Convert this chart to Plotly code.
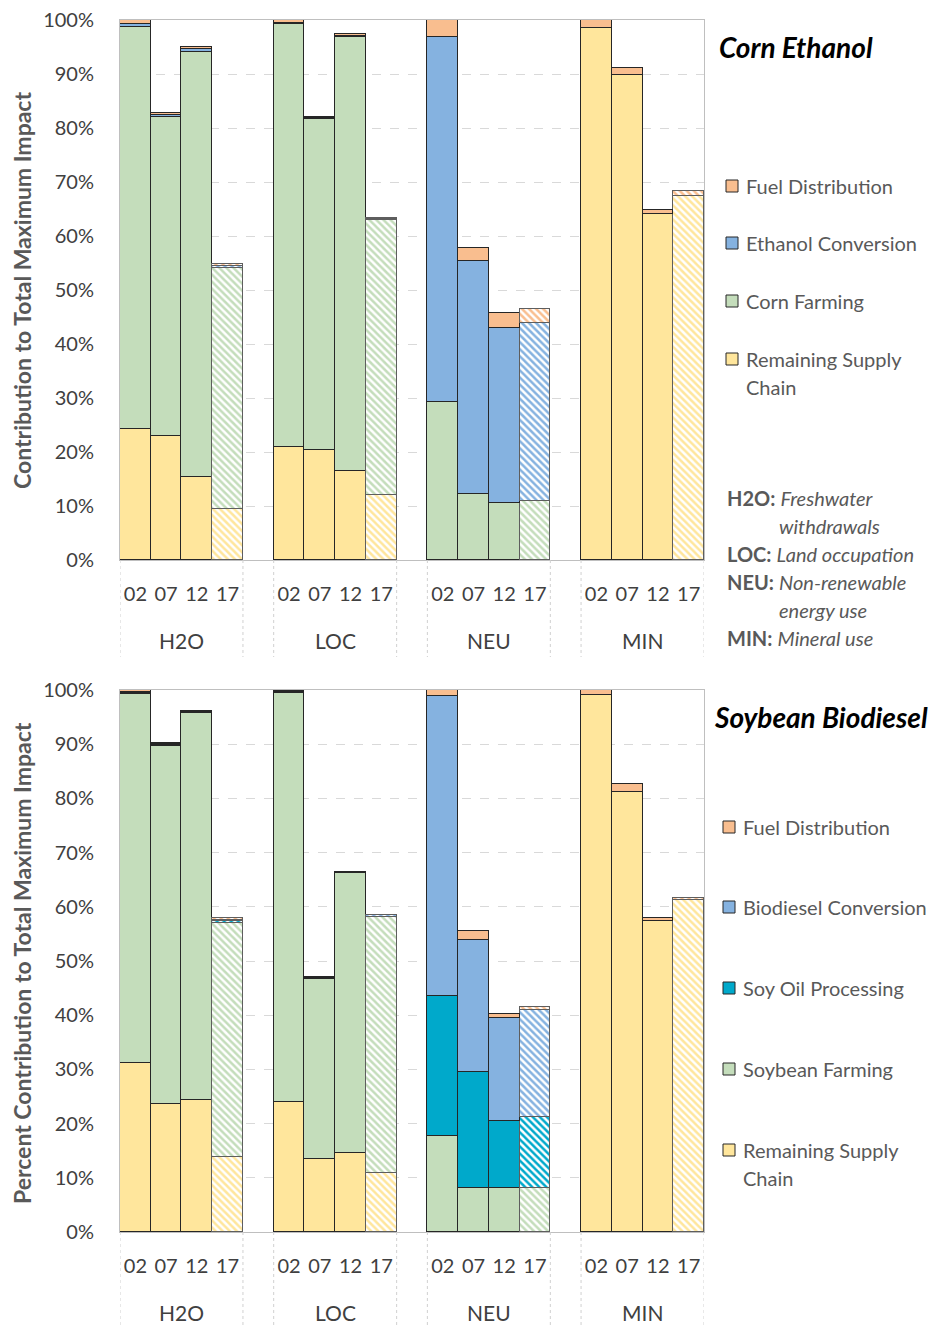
import plotly.graph_objects as go

# Impact categories and study years
impacts = ["H2O", "LOC", "NEU", "MIN"]
years = ["02", "07", "12", "17"]

# Corn ethanol: % contribution to total maximum impact (impact-major, year-minor)
corn_remaining = [24.2, 23.0, 15.3, 9.4, 20.9, 20.4, 16.4, 12.0, 0, 0, 0, 0, 98.6, 89.9, 64.0, 67.4]
corn_farming = [74.5, 59.1, 78.8, 44.6, 78.4, 61.2, 80.5, 51.0, 29.3, 12.3, 10.5, 10.9, 0, 0, 0, 0]
corn_conversion = [0.6, 0.3, 0.5, 0.5, 0.1, 0.2, 0.1, 0.1, 67.6, 43.1, 32.5, 33.0, 0, 0, 0, 0]
corn_fuel = [0.7, 0.3, 0.4, 0.4, 0.6, 0.2, 0.5, 0.2, 3.1, 2.3, 2.7, 2.6, 1.4, 1.3, 0.9, 1.0]

# Soybean biodiesel
soy_remaining = [31.2, 23.7, 24.4, 13.8, 24.0, 13.4, 14.6, 10.8, 0, 0, 0, 0, 99.1, 81.1, 57.3, 61.3]
soy_farming = [68.0, 66.0, 71.3, 43.2, 75.4, 33.2, 51.6, 47.3, 17.7, 8.2, 8.2, 8.2, 0, 0, 0, 0]
soy_oil = [0.2, 0.1, 0.1, 0.3, 0.2, 0.1, 0.1, 0.1, 25.8, 21.3, 12.2, 13.1, 0, 0, 0, 0]
soy_conversion = [0.2, 0.2, 0.1, 0.3, 0.2, 0.2, 0.1, 0.2, 55.4, 24.4, 19.0, 19.7, 0, 0, 0, 0]
soy_fuel = [0.4, 0.2, 0.2, 0.3, 0.2, 0.2, 0.1, 0.1, 1.1, 1.7, 0.8, 0.6, 0.9, 1.5, 0.7, 0.4]

impact_notes = [
    ("H2O:", "Freshwater", "withdrawals"),
    ("LOC:", "Land occupation", None),
    ("NEU:", "Non-renewable", "energy use"),
    ("MIN:", "Mineral use", None),
]

C_FUEL = "#F9BE8F"
C_CONV = "#85B2E0"
C_FARM = "#C4DDBB"
C_REM = "#FFE69C"
C_OIL = "#00A9CB"

W, H = 935, 1326
FONT = "Lato"
GRAY = "#595959"
DARK = "#404040"


def px(x):
    return x / W


def py(y):
    return 1 - y / H


# bar slots: 4 bars per impact, one empty slot between impacts
xpos = [g * 5 + i for g in range(len(impacts)) for i in range(len(years))]
is_proj = [years[i] == "17" for g in range(len(impacts)) for i in range(len(years))]

fig = go.Figure()


def add_stack(series, xa, ya):
    for name, vals, color in series:
        fig.add_trace(go.Bar(
            x=xpos, y=vals, width=1, name=name, showlegend=False,
            xaxis=xa, yaxis=ya,
            marker=dict(
                color=color,
                line=dict(color=["#5e5e5e" if p else "#262626" for p in is_proj], width=1.1),
                pattern=dict(
                    shape=["\\" if p else "" for p in is_proj],
                    fgcolor=color, bgcolor="white", size=5, solidity=0.5,
                    fillmode="replace",
                ),
            ),
            hoverinfo="skip",
        ))


corn_series = [
    ("Remaining Supply Chain", corn_remaining, C_REM),
    ("Corn Farming", corn_farming, C_FARM),
    ("Ethanol Conversion", corn_conversion, C_CONV),
    ("Fuel Distribution", corn_fuel, C_FUEL),
]
soy_series = [
    ("Remaining Supply Chain", soy_remaining, C_REM),
    ("Soybean Farming", soy_farming, C_FARM),
    ("Soy Oil Processing", soy_oil, C_OIL),
    ("Biodiesel Conversion", soy_conversion, C_CONV),
    ("Fuel Distribution", soy_fuel, C_FUEL),
]
add_stack(corn_series, "x", "y")
add_stack(soy_series, "x2", "y2")

x_dom = [px(120), px(704)]
top_dom = [py(560), py(20)]
bot_dom = [py(1232), py(690)]

xaxis_common = dict(
    range=[-0.5, 18.5], tickvals=xpos, ticktext=[years[i] for g in range(4) for i in range(4)],
    showgrid=False, zeroline=False, showline=True, mirror=True, linecolor="#BFBFBF",
    ticks="", ticklabelstandoff=16, tickfont=dict(family=FONT, size=20, color=DARK),
    domain=x_dom, fixedrange=True, automargin=False,
)
yaxis_common = dict(
    range=[0, 100], dtick=10, ticksuffix="%", showgrid=True, gridcolor="#D9D9D9",
    griddash="dash", zeroline=False, showline=True, mirror=True, linecolor="#BFBFBF",
    ticks="", ticklabelstandoff=21, tickfont=dict(family=FONT, size=20, color=DARK),
    fixedrange=True, automargin=False,
)

fig.update_layout(
    width=W, height=H, margin=dict(l=0, r=0, t=0, b=0, autoexpand=False),
    paper_bgcolor="white", plot_bgcolor="white",
    barmode="stack", bargap=0, showlegend=False,
    xaxis=dict(**xaxis_common, anchor="y"),
    yaxis=dict(**yaxis_common, domain=top_dom, anchor="x"),
    xaxis2=dict(**xaxis_common, anchor="y2"),
    yaxis2=dict(**yaxis_common, domain=bot_dom, anchor="x2"),
)

shapes = []
annotations = []


def note(x, y, text, size, color=GRAY, xanchor="left", **kw):
    annotations.append(dict(xref="paper", yref="paper", x=px(x), y=py(y), xanchor=xanchor,
                            yanchor="middle", text=text, showarrow=False,
                            font=dict(family=FONT, size=size, color=color), **kw))


# group separators and impact labels beneath each panel
edges = []
for g in range(len(impacts)):
    edges += [g * 5 - 0.5, g * 5 + 3.5]
for xref, y0, y1, ylab in [("x", 560, 657, 640), ("x2", 1232, 1326, 1312)]:
    for e in edges:
        shapes.append(dict(type="line", xref=xref, yref="paper", x0=e, x1=e,
                           y0=py(y0), y1=py(y1), line=dict(color="#D0D0D0", width=1, dash="dot")))
    for g, name in enumerate(impacts):
        annotations.append(dict(xref=xref, yref="paper", x=g * 5 + 1.5, y=py(ylab),
                                text=name, showarrow=False, xanchor="center", yanchor="middle",
                                font=dict(family=FONT, size=21, color=DARK)))

# axis titles
note(22, 291, "<b>Contribution to Total Maximum Impact</b>", 23, xanchor="center", textangle=-90)
note(22, 963, "<b>Percent Contribution to Total Maximum Impact</b>", 23, xanchor="center", textangle=-90)

# panel titles
note(717, 47, "<b><i>Corn Ethanol</i></b>", 28, color="black")
note(712, 717, "<b><i>Soybean Biodiesel</i></b>", 28, color="black")


def legend_block(series, ys, sq_x, txt_x):
    items = list(reversed(series))
    for (name, _, color), yc in zip(items, ys):
        shapes.append(dict(type="rect", xref="paper", yref="paper",
                           x0=px(sq_x), x1=px(sq_x + 12), y0=py(yc + 6), y1=py(yc - 6),
                           fillcolor=color, line=dict(color="#262626", width=1)))
        if name == "Remaining Supply Chain":
            parts = ["Remaining Supply", "Chain"]
        else:
            parts = [name]
        for k, part in enumerate(parts):
            note(txt_x, yc + 28 * k, part, 20)


legend_block(corn_series, [186, 243, 301, 359], 726, 744)
legend_block(soy_series, [827, 907, 988, 1069, 1150], 723, 741)

# abbreviation notes
note_y = 498
for abbr, desc, cont in impact_notes:
    note(725, note_y, f"<b>{abbr}</b> <i>{desc}</i>", 20)
    note_y += 28
    if cont:
        note(777, note_y, f"<i>{cont}</i>", 20)
        note_y += 28

fig.update_layout(shapes=shapes, annotations=annotations)
fig.write_html("out.html")
